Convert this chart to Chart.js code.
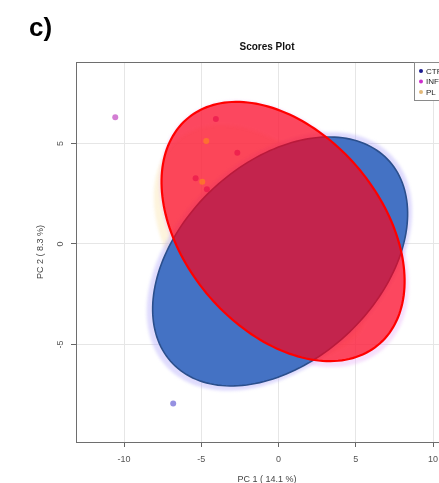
<!DOCTYPE html>
<html>
<head>
<meta charset="utf-8">
<script src="https://cdn.jsdelivr.net/npm/chart.js@4/dist/chart.umd.min.js"></script>
<style>
  html, body { margin: 0; padding: 0; background: #fff; overflow: hidden; }
  #wrap { width: 439px; height: 483px; overflow: hidden; position: relative; }
  canvas { display: block; }
</style>
</head>
<body>
<div id="wrap"><canvas id="scores" width="470" height="483"></canvas></div>
<script>
// Group names
const groups = ['CTRL', 'INF', 'PL'];

// PCA scores (PC1, PC2) per group
const ctrlPC1 = [-6.82];
const ctrlPC2 = [-7.93];
const infPC1 = [-10.57, -4.06, -2.67, -5.37, -4.64];
const infPC2 = [6.30, 6.22, 4.54, 3.27, 2.72];
const plPC1 = [-4.68, -4.94];
const plPC2 = [5.12, 3.10];

// Tick values
const pc1Ticks = [-10, -5, 0, 5, 10];
const pc2Ticks = [-5, 0, 5];

// Confidence ellipses: [centre PC1, centre PC2, semi-axis a, semi-axis b, rotation in degrees]
const blueEllipse = [0.10, -0.87, 8.82, 5.35, 26.4];
const redEllipse = [0.29, 0.62, 8.58, 5.46, -31.2];
const lavenderEllipse = [0.05, -0.87, 9.18, 5.55, 26.4];
const pinkEllipse = [0.36, 0.50, 8.80, 5.62, -31.2];
const yellowEllipse = [-1.00, 0.12, 7.72, 4.91, -31.2];

const FONT = '"Liberation Sans", Arial, sans-serif';

function pts(xs, ys) { return xs.map((x, i) => ({ x: x, y: ys[i] })); }

function ellipsePath(ctx, chart, e) {
  const sx = chart.scales.x, sy = chart.scales.y;
  const [cx, cy, a, b, deg] = e;
  const th = deg * Math.PI / 180;
  ctx.beginPath();
  for (let k = 0; k <= 180; k++) {
    const t = k / 180 * 2 * Math.PI;
    const dx = a * Math.cos(t), dy = b * Math.sin(t);
    const x = cx + dx * Math.cos(th) - dy * Math.sin(th);
    const y = cy + dx * Math.sin(th) + dy * Math.cos(th);
    const px = sx.getPixelForValue(x), py = sy.getPixelForValue(y);
    if (k === 0) ctx.moveTo(px, py); else ctx.lineTo(px, py);
  }
  ctx.closePath();
}

function clipArea(ctx, chart) {
  const a = chart.chartArea;
  ctx.beginPath();
  ctx.rect(a.left, a.top, a.right - a.left, a.bottom - a.top);
  ctx.clip();
}

const legendColors = ['#1c1c8f', '#cc2ccc', '#e2b878'];

const scoresPlugin = {
  id: 'scoresDecor',
  beforeDatasetsDraw(chart) {
    const ctx = chart.ctx;
    ctx.save();
    clipArea(ctx, chart);
    // soft halos
    ctx.filter = 'blur(1.8px)';
    ellipsePath(ctx, chart, yellowEllipse);
    ctx.fillStyle = 'rgba(250, 228, 170, 0.4)';
    ctx.fill();
    ellipsePath(ctx, chart, lavenderEllipse);
    ctx.fillStyle = 'rgba(185, 175, 250, 0.45)';
    ctx.fill();
    ellipsePath(ctx, chart, pinkEllipse);
    ctx.fillStyle = 'rgba(235, 185, 248, 0.45)';
    ctx.fill();
    ctx.filter = 'none';
    // CTRL ellipse
    ellipsePath(ctx, chart, blueEllipse);
    ctx.fillStyle = '#4472c4';
    ctx.fill();
    ctx.lineWidth = 1.6;
    ctx.strokeStyle = '#2b4f8c';
    ctx.stroke();
    ctx.restore();
  },
  afterDatasetDraw(chart, args) {
    if (args.index !== 1) return;
    const ctx = chart.ctx;
    ctx.save();
    clipArea(ctx, chart);
    ellipsePath(ctx, chart, redEllipse);
    ctx.fillStyle = 'rgba(255, 0, 20, 0.68)';
    ctx.fill();
    ctx.lineWidth = 2.2;
    ctx.strokeStyle = '#ff0000';
    ctx.stroke();
    ctx.restore();
  },
  afterDraw(chart) {
    const ctx = chart.ctx;
    const a = chart.chartArea;
    ctx.save();
    // top and right frame
    ctx.strokeStyle = '#6e6e6e';
    ctx.lineWidth = 1;
    ctx.beginPath();
    ctx.moveTo(a.left, a.top + 0.5);
    ctx.lineTo(a.right - 0.5, a.top + 0.5);
    ctx.lineTo(a.right - 0.5, a.bottom);
    ctx.stroke();

    // vertical PC2 tick labels
    const sy = chart.scales.y;
    ctx.fillStyle = '#555';
    ctx.font = '9px ' + FONT;
    ctx.textAlign = 'center';
    ctx.textBaseline = 'middle';
    sy.ticks.forEach(t => {
      const py = sy.getPixelForValue(t.value);
      ctx.save();
      ctx.translate(61, py);
      ctx.rotate(-Math.PI / 2);
      ctx.fillText(String(t.value), 0, 0);
      ctx.restore();
    });

    // legend box
    const lx = 414.5, ly = 62.5;
    ctx.fillStyle = '#fff';
    ctx.fillRect(lx, ly, 44, 38);
    ctx.strokeStyle = '#8a8a8a';
    ctx.strokeRect(lx, ly, 44, 38);
    ctx.font = '8px ' + FONT;
    ctx.textAlign = 'left';
    groups.forEach((g, i) => {
      const y = 71 + i * 10.5;
      ctx.fillStyle = legendColors[i];
      ctx.beginPath();
      ctx.arc(421, y, 2, 0, 2 * Math.PI);
      ctx.fill();
      ctx.fillStyle = '#222';
      ctx.fillText(g, 426, y + 0.5);
    });

    // plot title
    ctx.fillStyle = '#111';
    ctx.font = 'bold 10px ' + FONT;
    ctx.textAlign = 'center';
    ctx.fillText('Scores Plot', (a.left + a.right) / 2, 47);

    // panel letter
    ctx.font = 'bold 26px ' + FONT;
    ctx.textAlign = 'left';
    ctx.fillStyle = '#000';
    ctx.fillText('c)', 29, 29);
    ctx.restore();
  }
};

new Chart(document.getElementById('scores'), {
  type: 'scatter',
  data: {
    datasets: [
      { label: groups[0], data: pts(ctrlPC1, ctrlPC2), order: 2,
        backgroundColor: 'rgba(45, 35, 195, 0.5)', borderWidth: 0, pointRadius: 3 },
      { label: groups[1], data: pts(infPC1, infPC2), order: 1,
        backgroundColor: 'rgba(175, 20, 175, 0.55)', borderWidth: 0, pointRadius: 3 },
      { label: groups[2], data: pts(plPC1, plPC2), order: 0,
        backgroundColor: 'rgba(255, 165, 0, 0.45)', borderWidth: 0, pointRadius: 3 }
    ]
  },
  options: {
    responsive: false,
    animation: false,
    devicePixelRatio: 1,
    layout: { padding: { left: 0, top: 62, right: 12, bottom: 0 } },
    plugins: { legend: { display: false }, title: { display: false }, tooltip: { enabled: false } },
    scales: {
      x: {
        type: 'linear',
        min: -13.11, max: 11.61,
        afterFit(s) { s.height = 41; },
        afterBuildTicks(s) { s.ticks = pc1Ticks.map(v => ({ value: v })); },
        ticks: { color: '#555', font: { family: FONT, size: 9 }, padding: 7, maxRotation: 0 },
        grid: { color: '#e6e6e6', tickColor: '#666', tickLength: 5, drawTicks: true },
        border: { color: '#6e6e6e', width: 1 },
        title: { display: true, text: 'PC 1 ( 14.1 %)', color: '#444',
                 font: { family: FONT, size: 9 }, padding: { top: 0, bottom: -2 } }
      },
      y: {
        type: 'linear',
        min: -9.85, max: 9.05,
        afterFit(s) { s.width = 76; },
        afterBuildTicks(s) { s.ticks = pc2Ticks.map(v => ({ value: v })); },
        ticks: { display: false },
        grid: { color: '#e6e6e6', tickColor: '#666', tickLength: 5, drawTicks: true },
        border: { color: '#6e6e6e', width: 1 },
        title: { display: true, text: 'PC 2 ( 8.3 %)', color: '#444',
                 font: { family: FONT, size: 9 }, padding: { top: 35, bottom: 0 } }
      }
    }
  },
  plugins: [scoresPlugin]
});
</script>
</body>
</html>
